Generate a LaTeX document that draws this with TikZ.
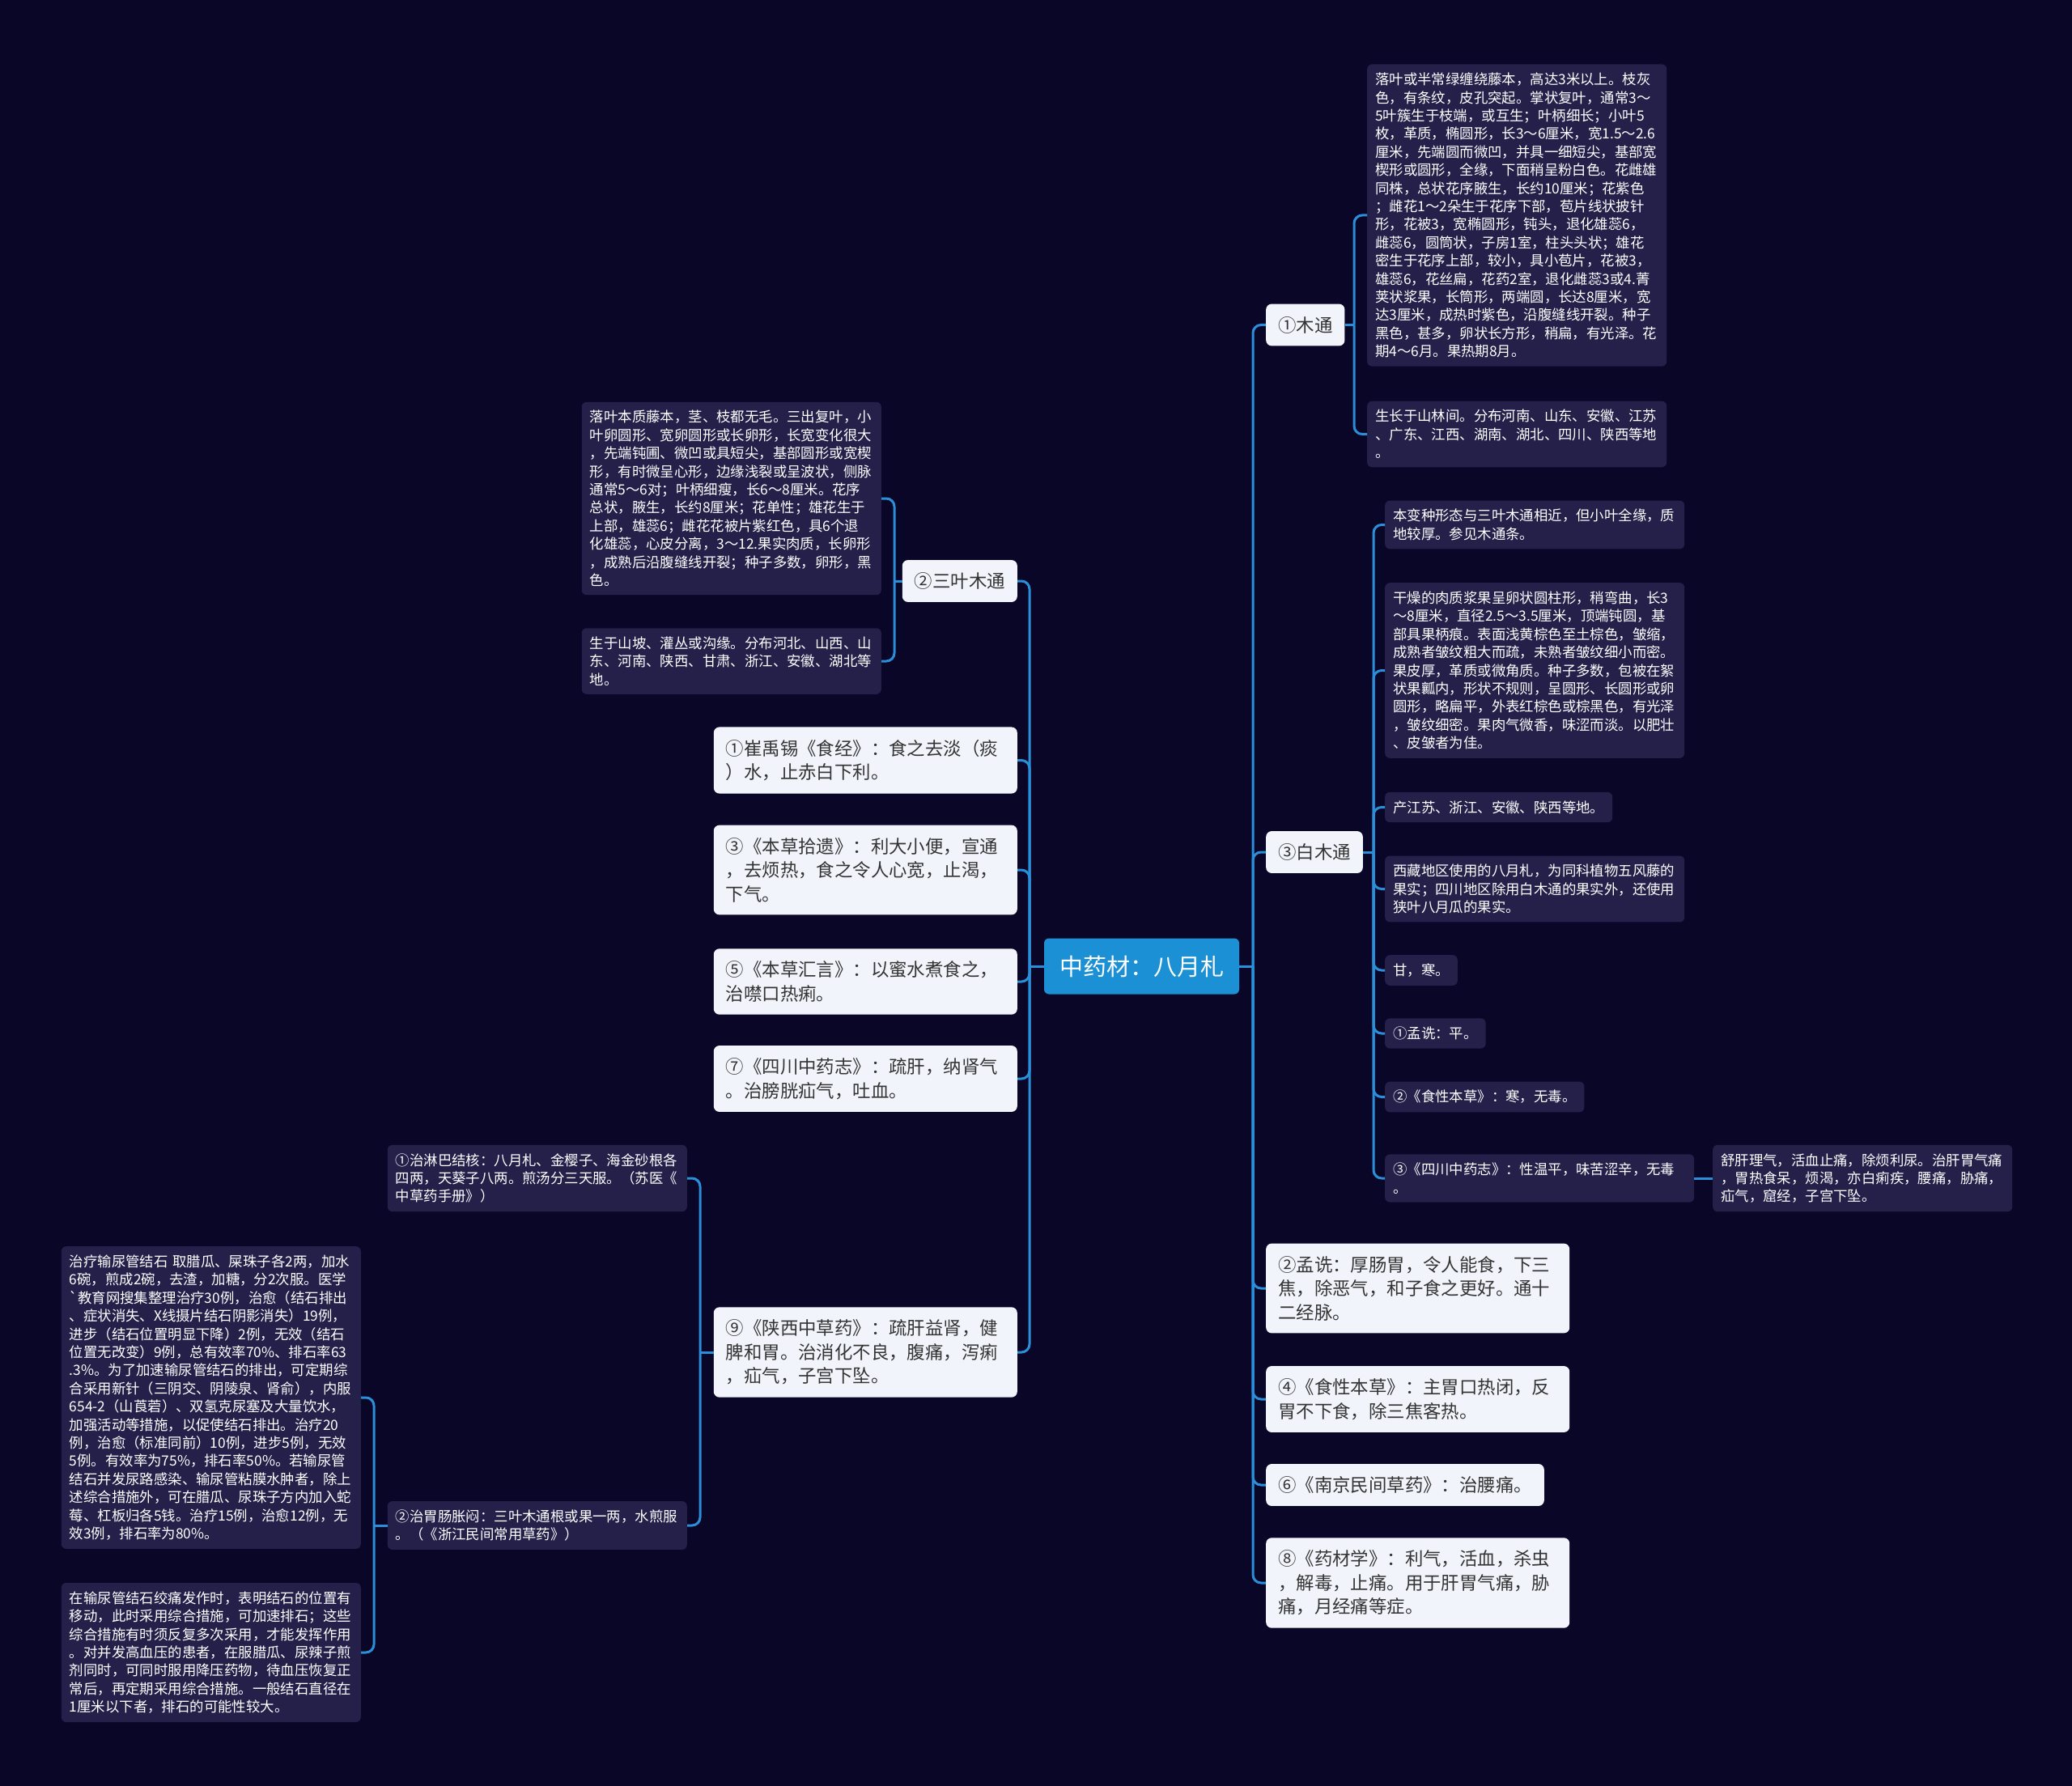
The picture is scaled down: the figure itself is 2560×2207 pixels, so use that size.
\documentclass[tikz,border=0pt]{standalone}
\usepackage{fontspec}
\setmainfont{Noto Sans CJK SC}[Ligatures=TeXOff]
\definecolor{bgnavy}{RGB}{10,6,40}
\definecolor{hubblue}{RGB}{27,144,212}
\definecolor{topicbg}{RGB}{241,245,251}
\definecolor{topicink}{RGB}{51,51,51}
\definecolor{leafbg}{RGB}{37,32,74}
\definecolor{wireblue}{RGB}{42,143,216}
\begin{document}
\begin{tikzpicture}[x=1pt, y=-1pt,
    hub/.style={rectangle, fill=hubblue, text=white, rounded corners=6pt,
      minimum width=241pt, minimum height=69pt, font=\fontsize{29}{34}\selectfont},
    topic/.style={rectangle, fill=topicbg, text=topicink, rounded corners=7pt,
      align=left, inner xsep=15pt, inner ysep=15.5pt, font=\fontsize{22.4}{29.5}\selectfont},
    topicw/.style={topic, text width=345pt},
    leaf/.style={rectangle, fill=leafbg, text=white, rounded corners=6pt,
      align=left, inner xsep=10pt, inner ysep=10.5pt, font=\fontsize{17.4}{22.4}\selectfont},
    leafw/.style={leaf, text width=350pt},
    wire/.style={draw=wireblue, line width=3pt, rounded corners=10pt}
  ]
  \useasboundingbox (0,0) rectangle (2560,2207);
  \fill[bgnavy] (0,0) rectangle (2560,2207);

  % centre
  \node[hub] (hub) at (1410.5,1194) {中药材：八月札};

  % right side
  \node[topic, anchor=west] (mutong) at (1564,401.5) {①木通};
  \node[topic, anchor=west] (baimutong) at (1564,1053) {③白木通};
  \node[topicw, anchor=west] (mengshen) at (1564,1592) {②孟诜：厚肠胃，令人能食，下三\\焦，除恶气，和子食之更好。通十\\二经脉。};
  \node[topicw, anchor=west] (shixing) at (1564,1729) {④《食性本草》：主胃口热闭，反\\胃不下食，除三焦客热。};
  \node[topic, anchor=west] (nanjing) at (1564,1835) {⑥《南京民间草药》：治腰痛。};
  \node[topicw, anchor=west] (yaocai) at (1564,1956) {⑧《药材学》：利气，活血，杀虫\\，解毒，止痛。用于肝胃气痛，胁\\痛，月经痛等症。};

  \node[leafw, anchor=west] (muDesc) at (1689,266) {落叶或半常绿缠绕藤本，高达3米以上。枝灰\\色，有条纹，皮孔突起。掌状复叶，通常3～\\5叶簇生于枝端，或互生；叶柄细长；小叶5\\枚，革质，椭圆形，长3～6厘米，宽1.5～2.6\\厘米，先端圆而微凹，并具一细短尖，基部宽\\楔形或圆形，全缘，下面稍呈粉白色。花雌雄\\同株，总状花序腋生，长约10厘米；花紫色\\；雌花1～2朵生于花序下部，苞片线状披针\\形，花被3，宽椭圆形，钝头，退化雄蕊6，\\雌蕊6，圆筒状，子房1室，柱头头状；雄花\\密生于花序上部，较小，具小苞片，花被3，\\雄蕊6，花丝扁，花药2室，退化雌蕊3或4.菁\\荚状浆果，长筒形，两端圆，长达8厘米，宽\\达3厘米，成热时紫色，沿腹缝线开裂。种子\\黑色，甚多，卵状长方形，稍扁，有光泽。花\\期4～6月。果热期8月。};
  \node[leafw, anchor=west] (muArea) at (1689,536.5) {生长于山林间。分布河南、山东、安徽、江苏\\、广东、江西、湖南、湖北、四川、陕西等地\\。};

  \node[leafw, anchor=west] (bmForm) at (1711,648.5) {本变种形态与三叶木通相近，但小叶全缘，质\\地较厚。参见木通条。};
  \node[leafw, anchor=west] (bmFruit) at (1711,828.5) {干燥的肉质浆果呈卵状圆柱形，稍弯曲，长3\\～8厘米，直径2.5～3.5厘米，顶端钝圆，基\\部具果柄痕。表面浅黄棕色至土棕色，皱缩，\\成熟者皱纹粗大而疏，未熟者皱纹细小而密。\\果皮厚，革质或微角质。种子多数，包被在絮\\状果瓤内，形状不规则，呈圆形、长圆形或卵\\圆形，略扁平，外表红棕色或棕黑色，有光泽\\，皱纹细密。果肉气微香，味涩而淡。以肥壮\\、皮皱者为佳。};
  \node[leaf, anchor=west] (bmPlace) at (1711,997.5) {产江苏、浙江、安徽、陕西等地。};
  \node[leafw, anchor=west] (bmXizang) at (1711,1098.5) {西藏地区使用的八月札，为同科植物五风藤的\\果实；四川地区除用白木通的果实外，还使用\\狭叶八月瓜的果实。};
  \node[leaf, anchor=west] (bmTaste) at (1711,1199) {甘，寒。};
  \node[leaf, anchor=west] (bmMeng) at (1711,1277) {①孟诜：平。};
  \node[leaf, anchor=west] (bmShixing) at (1711,1355.5) {②《食性本草》：寒，无毒。};
  \node[leaf, anchor=west, text width=362pt] (bmSichuan) at (1711,1456) {③《四川中药志》：性温平，味苦涩辛，无毒\\。};
  \node[leafw, anchor=west] (bmUse) at (2116,1456) {舒肝理气，活血止痛，除烦利尿。治肝胃气痛\\，胃热食呆，烦渴，亦白痢疾，腰痛，胁痛，\\疝气，窟经，子宫下坠。};

  % left side
  \node[topic, anchor=east] (sanye) at (1257,718) {②三叶木通};
  \node[topicw, anchor=east] (cui) at (1257,939.5) {①崔禹锡《食经》：食之去淡（痰\\）水，止赤白下利。};
  \node[topicw, anchor=east] (shiyi) at (1257,1075) {③《本草拾遗》：利大小便，宣通\\，去烦热，食之令人心宽，止渴，\\下气。};
  \node[topicw, anchor=east] (huiyan) at (1257,1213) {⑤《本草汇言》：以蜜水煮食之，\\治噤口热痢。};
  \node[topicw, anchor=east] (sichuan) at (1257,1333) {⑦《四川中药志》：疏肝，纳肾气\\。治膀胱疝气，吐血。};
  \node[topicw, anchor=east] (shaanxi) at (1257,1671) {⑨《陕西中草药》：疏肝益肾，健\\脾和胃。治消化不良，腹痛，泻痢\\，疝气，子宫下坠。};

  \node[leafw, anchor=east] (syForm) at (1089,616) {落叶本质藤本，茎、枝都无毛。三出复叶，小\\叶卵圆形、宽卵圆形或长卵形，长宽变化很大\\，先端钝圃、微凹或具短尖，基部圆形或宽楔\\形，有时微呈心形，边缘浅裂或呈波状，侧脉\\通常5～6对；叶柄细瘦，长6～8厘米。花序\\总状，腋生，长约8厘米；花单性；雄花生于\\上部，雄蕊6；雌花花被片紫红色，具6个退\\化雄蕊，心皮分离，3～12.果实肉质，长卵形\\，成熟后沿腹缝线开裂；种子多数，卵形，黑\\色。};
  \node[leafw, anchor=east] (syArea) at (1089,817) {生于山坡、灌丛或沟缘。分布河北、山西、山\\东、河南、陕西、甘肃、浙江、安徽、湖北等\\地。};

  \node[leafw, anchor=east] (sxLymph) at (849,1456) {①治淋巴结核：八月札、金樱子、海金砂根各\\四两，天葵子八两。煎汤分三天服。（苏医《\\中草药手册》）};
  \node[leafw, anchor=east] (sxStomach) at (849,1885) {②治胃肠胀闷：三叶木通根或果一两，水煎服\\。（《浙江民间常用草药》）};

  \node[leafw, anchor=east] (wcStone) at (446,1727) {治疗输尿管结石 取腊瓜、屎珠子各2两，加水\\6碗，煎成2碗，去渣，加糖，分2次服。医学\\`教育网搜集整理治疗30例，治愈（结石排出\\、症状消失、X线摄片结石阴影消失）19例，\\进步（结石位置明显下降）2例，无效（结石\\位置无改变）9例，总有效率70\%、排石率63\\.3\%。为了加速输尿管结石的排出，可定期综\\合采用新针（三阴交、阴陵泉、肾俞），内服\\654-2（山莨菪）、双氢克尿塞及大量饮水，\\加强活动等措施，以促使结石排出。治疗20\\例，治愈（标准同前）10例，进步5例，无效\\5例。有效率为75\%，排石率50\%。若输尿管\\结石并发尿路感染、输尿管粘膜水肿者，除上\\述综合措施外，可在腊瓜、尿珠子方内加入蛇\\莓、杠板归各5钱。治疗15例，治愈12例，无\\效3例，排石率为80\%。};
  \node[leafw, anchor=east] (wcColic) at (446,2042) {在输尿管结石绞痛发作时，表明结石的位置有\\移动，此时采用综合措施，可加速排石；这些\\综合措施有时须反复多次采用，才能发挥作用\\。对并发高血压的患者，在服腊瓜、尿辣子煎\\剂同时，可同时服用降压药物，待血压恢复正\\常后，再定期采用综合措施。一般结石直径在\\1厘米以下者，排石的可能性较大。};

  % trunks
  \coordinate (tR) at (1548,0);
  \coordinate (tL) at (1272,0);
  \coordinate (tMu) at (1673,0);
  \coordinate (tBai) at (1697,0);
  \coordinate (tSan) at (1105,0);
  \coordinate (tShaan) at (865,0);
  \coordinate (tWei) at (462,0);

  % connectors
  \draw[wire] (hub.east) -- (hub.east -| tR);
  \foreach \c in {mutong,baimutong,mengshen,shixing,nanjing,yaocai}
    \draw[wire] (hub.east -| tR) |- (\c.west);
  \draw[wire] (hub.west) -- (hub.west -| tL);
  \foreach \c in {sanye,cui,shiyi,huiyan,sichuan,shaanxi}
    \draw[wire] (hub.west -| tL) |- (\c.east);

  \draw[wire] (mutong.east) -- (mutong.east -| tMu);
  \foreach \c in {muDesc,muArea}
    \draw[wire] (mutong.east -| tMu) |- (\c.west);
  \draw[wire] (baimutong.east) -- (baimutong.east -| tBai);
  \foreach \c in {bmForm,bmFruit,bmPlace,bmXizang,bmTaste,bmMeng,bmShixing,bmSichuan}
    \draw[wire] (baimutong.east -| tBai) |- (\c.west);
  \draw[wire] (bmSichuan.east) -- (bmUse.west);

  \draw[wire] (sanye.west) -- (sanye.west -| tSan);
  \foreach \c in {syForm,syArea}
    \draw[wire] (sanye.west -| tSan) |- (\c.east);
  \draw[wire] (shaanxi.west) -- (shaanxi.west -| tShaan);
  \foreach \c in {sxLymph,sxStomach}
    \draw[wire] (shaanxi.west -| tShaan) |- (\c.east);
  \draw[wire] (sxStomach.west) -- (sxStomach.west -| tWei);
  \foreach \c in {wcStone,wcColic}
    \draw[wire] (sxStomach.west -| tWei) |- (\c.east);
\end{tikzpicture}
\end{document}
